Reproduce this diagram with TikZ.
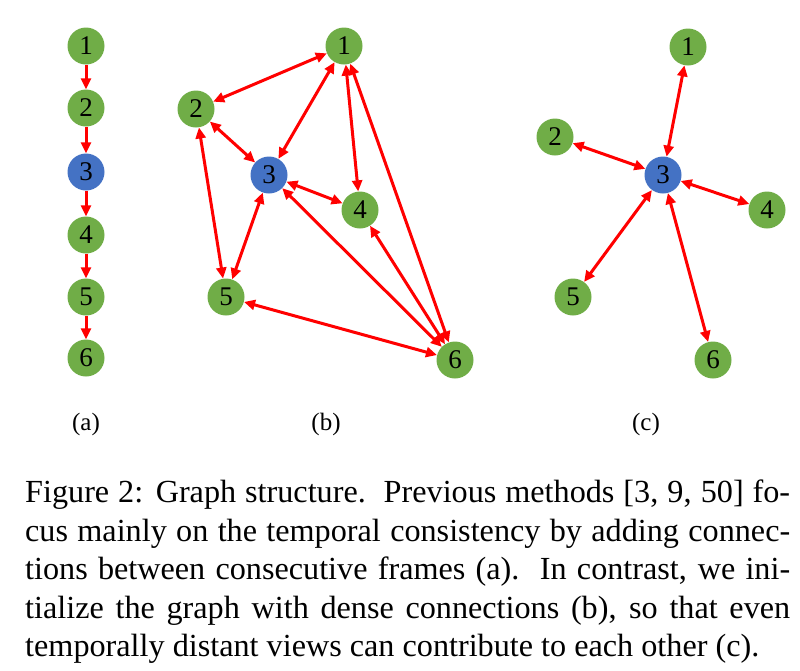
\documentclass[tikz,border=0pt]{standalone}
\usepackage{fontspec}
\setmainfont{Liberation Serif}
\newfontfamily\capfont{Liberation Serif}
\usetikzlibrary{arrows.meta}
\definecolor{ngreen}{RGB}{112,173,71}
\definecolor{nblue}{RGB}{68,114,196}
\begin{document}
\begin{tikzpicture}[x=1pt,y=-1pt,
  gnode/.style={circle,fill=ngreen,inner sep=0pt,minimum size=37pt,font=\fontsize{27}{27}\selectfont},
  bnode/.style={gnode,fill=nblue},
  edge/.style={draw=red,line width=3pt,-{Triangle[length=11pt,width=10pt]}},
  dedge/.style={draw=red,line width=3pt,{Triangle[length=11pt,width=10pt]}-{Triangle[length=11pt,width=10pt]}},
  sublabel/.style={font=\fontsize{25}{25}\selectfont},
  capline/.style={anchor=base west,inner sep=0pt,font=\capfont\fontsize{32.2}{38}\selectfont}]
\useasboundingbox (0,0) rectangle (800,670);
% (a)
\node[gnode] (a1) at (86,46) {1};
\node[gnode] (a2) at (86,108) {2};
\node[bnode] (a3) at (86,172) {3};
\node[gnode] (a4) at (86,235) {4};
\node[gnode] (a5) at (86,297) {5};
\node[gnode] (a6) at (86,358) {6};
\foreach \i/\j in {1/2,2/3,3/4,4/5,5/6} \draw[edge] (a\i) -- (a\j);
% (b)
\node[gnode] (b1) at (344,46) {1};
\node[gnode] (b2) at (196,109) {2};
\node[bnode] (b3) at (269,175) {3};
\node[gnode] (b4) at (360,210) {4};
\node[gnode] (b5) at (226,297) {5};
\node[gnode] (b6) at (455,360) {6};
\foreach \i/\j in {1/2,1/3,1/4,1/6,2/3,2/5,3/4,3/5,3/6,4/6,5/6} \draw[dedge] (b\i) -- (b\j);
% (c)
\node[gnode] (c1) at (688,47) {1};
\node[gnode] (c2) at (555,137) {2};
\node[bnode] (c3) at (663,175) {3};
\node[gnode] (c4) at (767,210) {4};
\node[gnode] (c5) at (573,297) {5};
\node[gnode] (c6) at (713,360) {6};
\foreach \j in {1,2,4,5,6} \draw[dedge] (c3) -- (c\j);
% sub labels
\node[sublabel] (la) at (86,424) {(a)};
\node[sublabel] (lb) at (326,424) {(b)};
\node[sublabel] (lc) at (646,424) {(c)};
% caption
\node[capline] (cap1) at (25,502) {\makebox[765pt][s]{Figure 2: Graph structure.\ \ Previous methods [3, 9, 50] fo-}};
\node[capline] (cap2) at (25,541) {\makebox[765pt][s]{cus mainly on the temporal consistency by adding connec-}};
\node[capline] (cap3) at (25,579) {\makebox[765pt][s]{tions between consecutive frames (a).\ \ In contrast, we ini-}};
\node[capline] (cap4) at (25,618) {\makebox[765pt][s]{tialize the graph with dense connections (b), so that even}};
\node[capline] (cap5) at (25,656) {temporally distant views can contribute to each other (c).};
\end{tikzpicture}
\end{document}
